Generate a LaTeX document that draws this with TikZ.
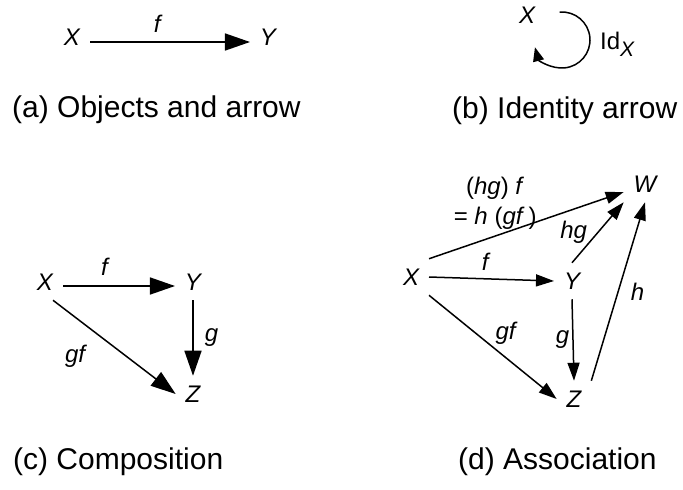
\documentclass[tikz,border=0pt]{standalone}
\usepackage{fontspec}
\setmainfont{Liberation Sans}
\usepackage{tikz}
\usetikzlibrary{arrows.meta,positioning,calc}

\begin{document}
\begin{tikzpicture}[
  x=1pt, y=-1pt,
  obj/.style={font=\fontsize{24}{28}\selectfont\itshape, inner sep=0pt, outer sep=10pt},
  lbl/.style={font=\fontsize{24}{28}\selectfont\itshape, inner sep=2pt},
  captxt/.style={font=\fontsize{30}{36}\selectfont, anchor=west, inner sep=0pt},
  arr/.style={-{Triangle[length=25pt, width=17pt]}, line width=1.5pt},
  sarr/.style={-{Triangle[length=18pt, width=12pt]}, line width=1.5pt}
]
  \useasboundingbox (0,0) rectangle (683,490);

  % (a) objects and arrow
  \node[obj] (Xa) at (72,37) {X};
  \node[obj] (Ya) at (268,37) {Y};
  \draw[arr] ([yshift=-5pt]Xa.east) -- ([yshift=-5pt]Ya.west)
    node[lbl, pos=0.42, above=7pt] {f};
  \node[captxt] (capa) at (12,110) {(a) Objects and arrow};

  % (b) identity arrow
  \node[obj] (Xb) at (527,15) {X};
  \coordinate (loopc) at (562,40);
  \draw[-{Triangle[length=14pt, width=11pt]}, line width=1.5pt]
    ([shift={(95:28pt)}]loopc) arc[start angle=95, end angle=-165, radius=28pt];
  \node[font=\fontsize{24}{28}\selectfont, inner sep=0pt, anchor=west] (idx) at (600,44)
    {Id\raisebox{-7pt}{\fontsize{21}{24}\selectfont\itshape X}};
  \node[captxt] (capb) at (452,111) {(b) Identity arrow};

  % (c) composition
  \node[obj] (Xc) at (45,282) {X};
  \node[obj] (Yc) at (193,282) {Y};
  \node[obj] (Zc) at (193,394) {Z};
  \draw[arr] ([yshift=-4pt]Xc.east) -- ([yshift=-4pt]Yc.west)
    node[lbl, pos=0.37, above=8pt] {f};
  \draw[arr] (Yc.south) -- (Zc.north)
    node[lbl, midway, right=9pt] {g};
  \draw[arr] ([xshift=8pt]Xc.south) -- (Zc.west)
    node[lbl, pos=0.3, below left=14pt and 2pt] {gf};
  \node[captxt] (capc) at (13,462) {(c) Composition};

  % (d) association
  \node[obj] (Xd) at (411,277) {X};
  \node[obj] (Yd) at (572,281) {Y};
  \node[obj] (Zd) at (574,399) {Z};
  \node[obj] (Wd) at (645,184) {W};
  \draw[sarr] (Xd.east) -- (Yd.west)
    node[lbl, pos=0.45, above=6pt] {f};
  \draw[sarr] (Yd.south) -- (Zd.north)
    node[lbl, midway, left=1pt] {g};
  \draw[sarr] (Xd.south east) -- (Zd.west)
    node[lbl, pos=0.5, above right=0pt and 0pt] {gf};
  \draw[sarr] (Yd.north) -- (Wd.south west)
    node[lbl, midway, left=8pt] {hg};
  \draw[sarr] (Zd.north east) -- (Wd.south)
    node[lbl, midway, right=10pt] {h};
  \draw[sarr] (Xd.north east) -- ([yshift=-8pt]Wd.west)
    node[lbl, pos=0.34, above=4pt, align=center, font=\fontsize{24}{30}\selectfont]
    {(\textit{hg})~\textit{f}\\= \textit{h}~(\textit{gf}\,)};
  \node[captxt] (capd) at (458,462) {(d) Association};
\end{tikzpicture}
\end{document}
